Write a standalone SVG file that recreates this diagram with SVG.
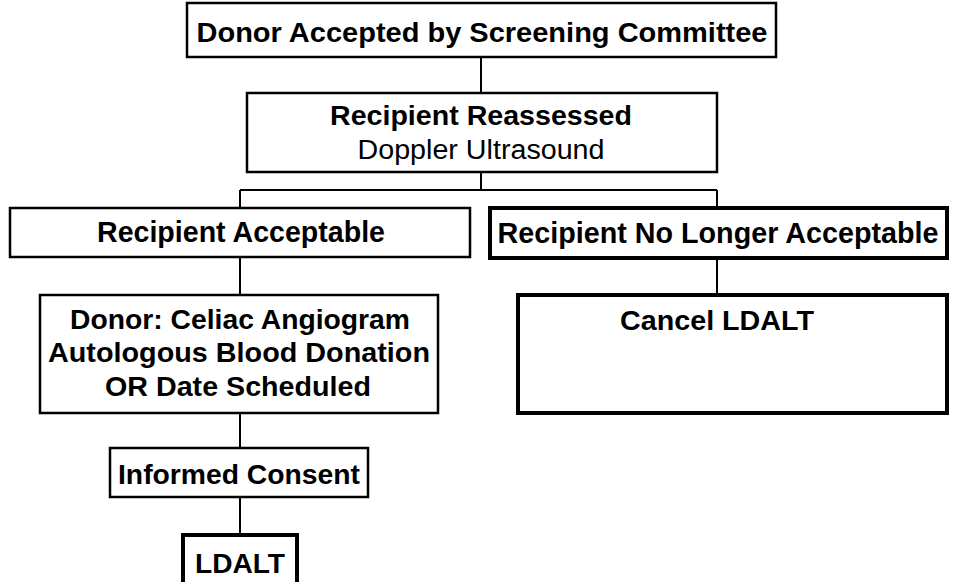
<svg xmlns="http://www.w3.org/2000/svg" width="959" height="582" viewBox="0 0 959 582">
<style>
.box{fill:#fff;stroke:#000;stroke-width:2.5}
.thick{stroke-width:4}
.t{font-family:"Liberation Sans",Arial,sans-serif;font-weight:bold;font-size:27px;text-anchor:middle;fill:#000}
.n{font-weight:normal}
.s{font-size:29px}
.c{stroke:#000;stroke-width:2;fill:none}
</style>
<rect width="959" height="582" fill="#fff"/>
<g id="connectors">
<path class="c" d="M481 57V93M481 172V190M240 190H717M240 190V208M717 190V208M240 258V295M717 259V295M240 413V448M240 497V535"/>
</g>
<g id="n1"><rect class="box" x="187" y="3" width="589" height="54"/><text class="t" x="482" y="42" font-size="28" textLength="571" lengthAdjust="spacingAndGlyphs">Donor Accepted by Screening Committee</text></g>
<g id="n2"><rect class="box" x="247" y="93" width="470" height="79"/><text class="t" x="481" y="125" textLength="302" lengthAdjust="spacingAndGlyphs">Recipient Reassessed</text><text class="t n" x="481" y="159" textLength="247" lengthAdjust="spacingAndGlyphs">Doppler Ultrasound</text></g>
<g id="n3"><rect class="box" x="10" y="208" width="460" height="49"/><text class="t s" x="241" y="242" textLength="288" lengthAdjust="spacingAndGlyphs">Recipient Acceptable</text></g>
<g id="n4"><rect class="box thick" x="490" y="208" width="457" height="50"/><text class="t s" x="718" y="243" textLength="441" lengthAdjust="spacingAndGlyphs">Recipient No Longer Acceptable</text></g>
<g id="n5"><rect class="box" x="40" y="295" width="398" height="118"/><text class="t" x="240" y="329" textLength="340" lengthAdjust="spacingAndGlyphs">Donor: Celiac Angiogram</text><text class="t" x="239" y="362" textLength="382" lengthAdjust="spacingAndGlyphs">Autologous Blood Donation</text><text class="t" x="238" y="396" textLength="266" lengthAdjust="spacingAndGlyphs">OR Date Scheduled</text></g>
<g id="n6"><rect class="box thick" x="518" y="295" width="429" height="118"/><text class="t" x="717" y="330" textLength="194" lengthAdjust="spacingAndGlyphs">Cancel LDALT</text></g>
<g id="n7"><rect class="box" x="110" y="448" width="258" height="49"/><text class="t" x="239" y="484" textLength="242" lengthAdjust="spacingAndGlyphs">Informed Consent</text></g>
<g id="n8"><rect class="box thick" x="183" y="535" width="114" height="52"/><text class="t" x="240" y="573" font-size="28" textLength="90" lengthAdjust="spacingAndGlyphs">LDALT</text></g>
</svg>
